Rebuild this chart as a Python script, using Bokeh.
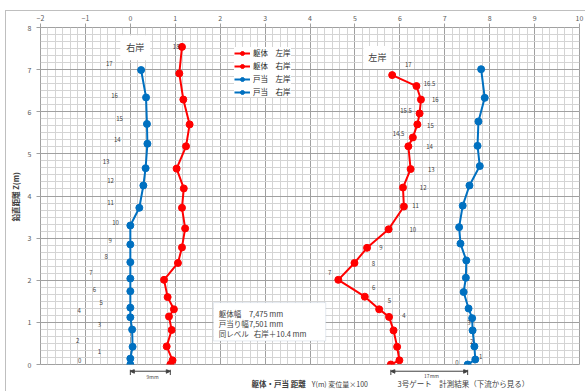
from bokeh.plotting import figure
from bokeh.layouts import column
from bokeh.models import (Range1d, SingleIntervalTicker, Label, Legend, LegendItem,
                          BoxAnnotation, Arrow, NormalHead, ColumnDataSource)
from bokeh.core.properties import value
from bokeh.embed import file_html
from bokeh.resources import INLINE

FONT = "Noto Sans CJK JP"

# ---------------- data ----------------
# 躯体 右岸 (body, right bank)
rb_body_z = [0.0, 0.10, 0.43, 0.82, 1.14, 1.31, 1.60, 2.01, 2.41, 2.78, 3.23, 3.72, 4.18, 4.65, 5.18, 5.70, 6.29, 6.91, 7.54]
rb_body_y = [0.89, 0.94, 0.81, 0.92, 0.86, 0.97, 0.83, 0.75, 1.06, 1.15, 1.22, 1.15, 1.19, 1.03, 1.24, 1.32, 1.18, 1.09, 1.15]
# 戸当 右岸 (gate seat, right bank)
rb_gate_z = [0.0, 0.14, 0.42, 0.83, 1.12, 1.35, 1.74, 2.04, 2.43, 2.85, 3.30, 3.72, 4.25, 4.66, 5.24, 5.71, 6.34, 6.99]
rb_gate_y = [0.0, 0.0, 0.05, 0.04, 0.0, 0.0, 0.0, 0.0, 0.0, 0.0, 0.0, 0.20, 0.29, 0.34, 0.38, 0.37, 0.35, 0.24]
# 躯体 左岸 (body, left bank)
lb_body_z = [0.0, 0.10, 0.42, 0.81, 1.13, 1.31, 1.61, 2.01, 2.41, 2.77, 3.21, 3.75, 4.20, 4.64, 5.18, 5.39, 5.70, 5.96, 6.29, 6.61, 6.87]
lb_body_y = [5.80, 5.99, 5.94, 5.86, 5.76, 5.54, 5.22, 4.63, 4.99, 5.27, 5.75, 6.09, 6.07, 6.24, 6.19, 6.29, 6.39, 6.44, 6.47, 6.37, 5.83]
# 戸当 左岸 (gate seat, left bank)
lb_gate_z = [0.0, 0.12, 0.43, 0.81, 1.10, 1.33, 1.72, 2.06, 2.47, 2.87, 3.26, 3.77, 4.25, 4.71, 5.19, 5.77, 6.33, 7.01]
lb_gate_y = [7.51, 7.68, 7.66, 7.62, 7.61, 7.53, 7.42, 7.47, 7.48, 7.35, 7.32, 7.40, 7.55, 7.78, 7.73, 7.75, 7.89, 7.81]

# station numbers
rb_station_text = ["0", "1", "2", "3", "4", "5", "6", "7", "8", "9", "10", "11", "12", "13", "14", "15", "16", "17", "18"]
rb_station_x = [-1.13, -0.69, -1.17, -0.69, -1.14, -0.65, -0.80, -0.88, -0.54, -0.45, -0.33, -0.44, -0.44, -0.54, -0.29, -0.24, -0.35, -0.47, 1.02]
rb_station_z = [0.10, 0.32, 0.58, 0.95, 1.29, 1.47, 1.79, 2.19, 2.57, 2.95, 3.38, 3.85, 4.37, 4.82, 5.33, 5.84, 6.38, 7.14, 7.55]
lb_station_text = ["0", "1", "2", "3", "4", "5", "6", "7", "8", "9", "10", "11", "12", "13", "14", "14.5", "15", "15.5", "16", "16.5", "17"]
lb_station_x = [7.27, 7.80, 7.60, 7.54, 6.09, 5.77, 5.42, 4.44, 5.41, 5.58, 6.29, 6.35, 6.52, 6.70, 6.66, 5.97, 6.68, 6.14, 6.79, 6.66, 6.19]
lb_station_z = [0.05, 0.20, 0.55, 0.99, 1.17, 1.52, 1.82, 2.19, 2.39, 2.77, 3.21, 3.78, 4.19, 4.63, 5.17, 5.49, 5.67, 6.03, 6.28, 6.66, 7.11]

# dimension marks (bottom of the body / gate lines): start, end, label
dim_start = [0.0, 5.80]
dim_end = [0.89, 7.51]
dim_label = ["9mm", "17mm"]

RED = "#FF0000"
BLUE = "#0070C0"
TXT = "#404040"

p = figure(width=585, height=369, output_backend="svg", toolbar_location=None,
           x_range=Range1d(-2, 10), y_range=Range1d(0, 8), x_axis_location="above",
           min_border_left=40, min_border_right=6, min_border_top=27, min_border_bottom=5)
p.background_fill_color = "white"
p.border_fill_alpha = 0.0
p.outline_line_color = "#A0A0A0"

xt = SingleIntervalTicker(interval=1, num_minor_ticks=6)
yt = SingleIntervalTicker(interval=1, num_minor_ticks=6)
p.xaxis.ticker = xt
p.yaxis.ticker = yt
p.xgrid.ticker = xt
p.ygrid.ticker = yt
for g in (p.xgrid, p.ygrid):
    g.grid_line_color = "#A0A0A0"
    g.grid_line_width = 1
    g.minor_grid_line_color = "#D4D4D4"
    g.minor_grid_line_width = 1
for ax in (p.xaxis, p.yaxis):
    ax.axis_line_color = None
    ax.major_tick_line_color = "#A0A0A0"
    ax.major_tick_out = 4
    ax.major_tick_in = 0
    ax.minor_tick_line_color = None
    ax.major_label_text_font = FONT
    ax.major_label_text_font_size = "7px"
    ax.major_label_text_color = "#595959"
p.xaxis.major_label_standoff = 3
p.yaxis.major_label_standoff = 5
p.yaxis.axis_label = "鉛直距離  Z(m)"
p.yaxis.axis_label_text_font = FONT
p.yaxis.axis_label_text_font_size = "7.5px"
p.yaxis.axis_label_text_font_style = "bold"
p.yaxis.axis_label_text_color = TXT
p.yaxis.axis_label_standoff = 4

series = [
    ("躯体　左岸", lb_body_y, lb_body_z, RED),
    ("躯体　右岸", rb_body_y, rb_body_z, RED),
    ("戸当　左岸", lb_gate_y, lb_gate_z, BLUE),
    ("戸当　右岸", rb_gate_y, rb_gate_z, BLUE),
]
items = []
for name, xs, zs, col in series:
    src = ColumnDataSource(dict(x=xs, z=zs))
    l = p.line("x", "z", source=src, line_color=col, line_width=2)
    s = p.scatter("x", "z", source=src, size=7, fill_color=col, line_color=col)
    items.append(LegendItem(label=name, renderers=[l, s]))

legend = Legend(items=items, location=(194, 267), border_line_color=None,
                background_fill_color="white", background_fill_alpha=1.0,
                label_text_font=FONT, label_text_font_size="7.5px", label_text_color="#262626",
                glyph_width=16, glyph_height=10, label_height=10, spacing=2, padding=4,
                label_standoff=3, margin=0)
p.add_layout(legend, "center")

# station labels
for txt, xs, zs in ((rb_station_text, rb_station_x, rb_station_z),
                    (lb_station_text, lb_station_x, lb_station_z)):
    src = ColumnDataSource(dict(x=xs, z=zs, t=txt))
    p.text("x", "z", text="t", source=src, text_font=value(FONT), text_font_size="6px",
           text_color=TXT, text_align="center", text_baseline="middle")

# bank labels
p.add_layout(Label(x=0.11, y=7.52, text="右岸", text_font=FONT, text_font_size="9px",
                   text_color=TXT, text_align="center", text_baseline="middle",
                   background_fill_color="white", padding=6))
p.add_layout(Label(x=5.5, y=7.29, text="左岸", text_font=FONT, text_font_size="9px",
                   text_color=TXT, text_align="center", text_baseline="middle",
                   background_fill_color="white", padding=5))

# info box
p.add_layout(BoxAnnotation(left=1.85, right=4.35, bottom=0.56, top=1.47,
                           fill_color="white", fill_alpha=1.0,
                           line_color="#A8B8CC", line_width=1))
info = [("躯体幅", "7,475 mm", 1.22, 2.64), ("戸当り幅", "7,501 mm", 0.97, 2.64),
        ("同レベル", "右岸＋10.4 mm", 0.73, 2.75)]
for a, bb, zz, xv in info:
    p.add_layout(Label(x=1.97, y=zz, text=a, text_font=FONT, text_font_size="7.5px",
                       text_color=TXT, text_baseline="middle"))
    p.add_layout(Label(x=xv, y=zz, text=bb, text_font=FONT, text_font_size="7.5px",
                       text_color=TXT, text_baseline="middle"))

# ---------------- bottom strip (shares the x scale) ----------------
b = figure(width=585, height=22, output_backend="svg", toolbar_location=None,
           x_range=p.x_range, y_range=Range1d(-0.641, -0.119),
           min_border_left=40, min_border_right=6, min_border_top=0, min_border_bottom=0)
b.axis.visible = False
b.grid.visible = False
b.outline_line_color = None
b.background_fill_alpha = 0.0
b.border_fill_alpha = 0.0

b.segment(x0=dim_start + dim_end, y0=[-0.12] * 4, x1=dim_start + dim_end, y1=[-0.25] * 4,
          line_color=TXT, line_width=1)
for x0, x1 in zip(dim_start, dim_end):
    b.add_layout(Arrow(x_start=x0, y_start=-0.16, x_end=x1, y_end=-0.16,
                       start=NormalHead(size=4, fill_color=TXT, line_color=TXT),
                       end=NormalHead(size=4, fill_color=TXT, line_color=TXT),
                       line_color=TXT, line_width=1))
dsrc = ColumnDataSource(dict(x=[(s + e) / 2 + 0.05 for s, e in zip(dim_start, dim_end)],
                             z=[-0.28, -0.27], t=dim_label))
b.text("x", "z", text="t", source=dsrc, text_font=value(FONT), text_font_size="5px",
       text_color=TXT, text_align="center", text_baseline="middle")

b.text(x=[2.70], y=[-0.46], text=["躯体・戸当 距離"], text_font=value(FONT),
       text_font_size="7.5px", text_font_style="bold", text_color=TXT, text_baseline="middle")
b.text(x=[4.04], y=[-0.46], text=["Y(m)  変位量×100"], text_font=value(FONT),
       text_font_size="7px", text_color=TXT, text_baseline="middle")
b.text(x=[5.95], y=[-0.46], text=["3号ゲート　計測結果（下流から見る）"], text_font=value(FONT),
       text_font_size="7.5px", text_color=TXT, text_baseline="middle")

border_bg = ("linear-gradient(#BFBFBF, #BFBFBF) 5px 10px / 1px 100% no-repeat, "
             "linear-gradient(#BFBFBF, #BFBFBF) 5px 10px / 100% 1px no-repeat, white")
layout = column(p, b, spacing=0, styles={"background": border_bg})

open("out.html", "w").write(file_html(layout, INLINE))
